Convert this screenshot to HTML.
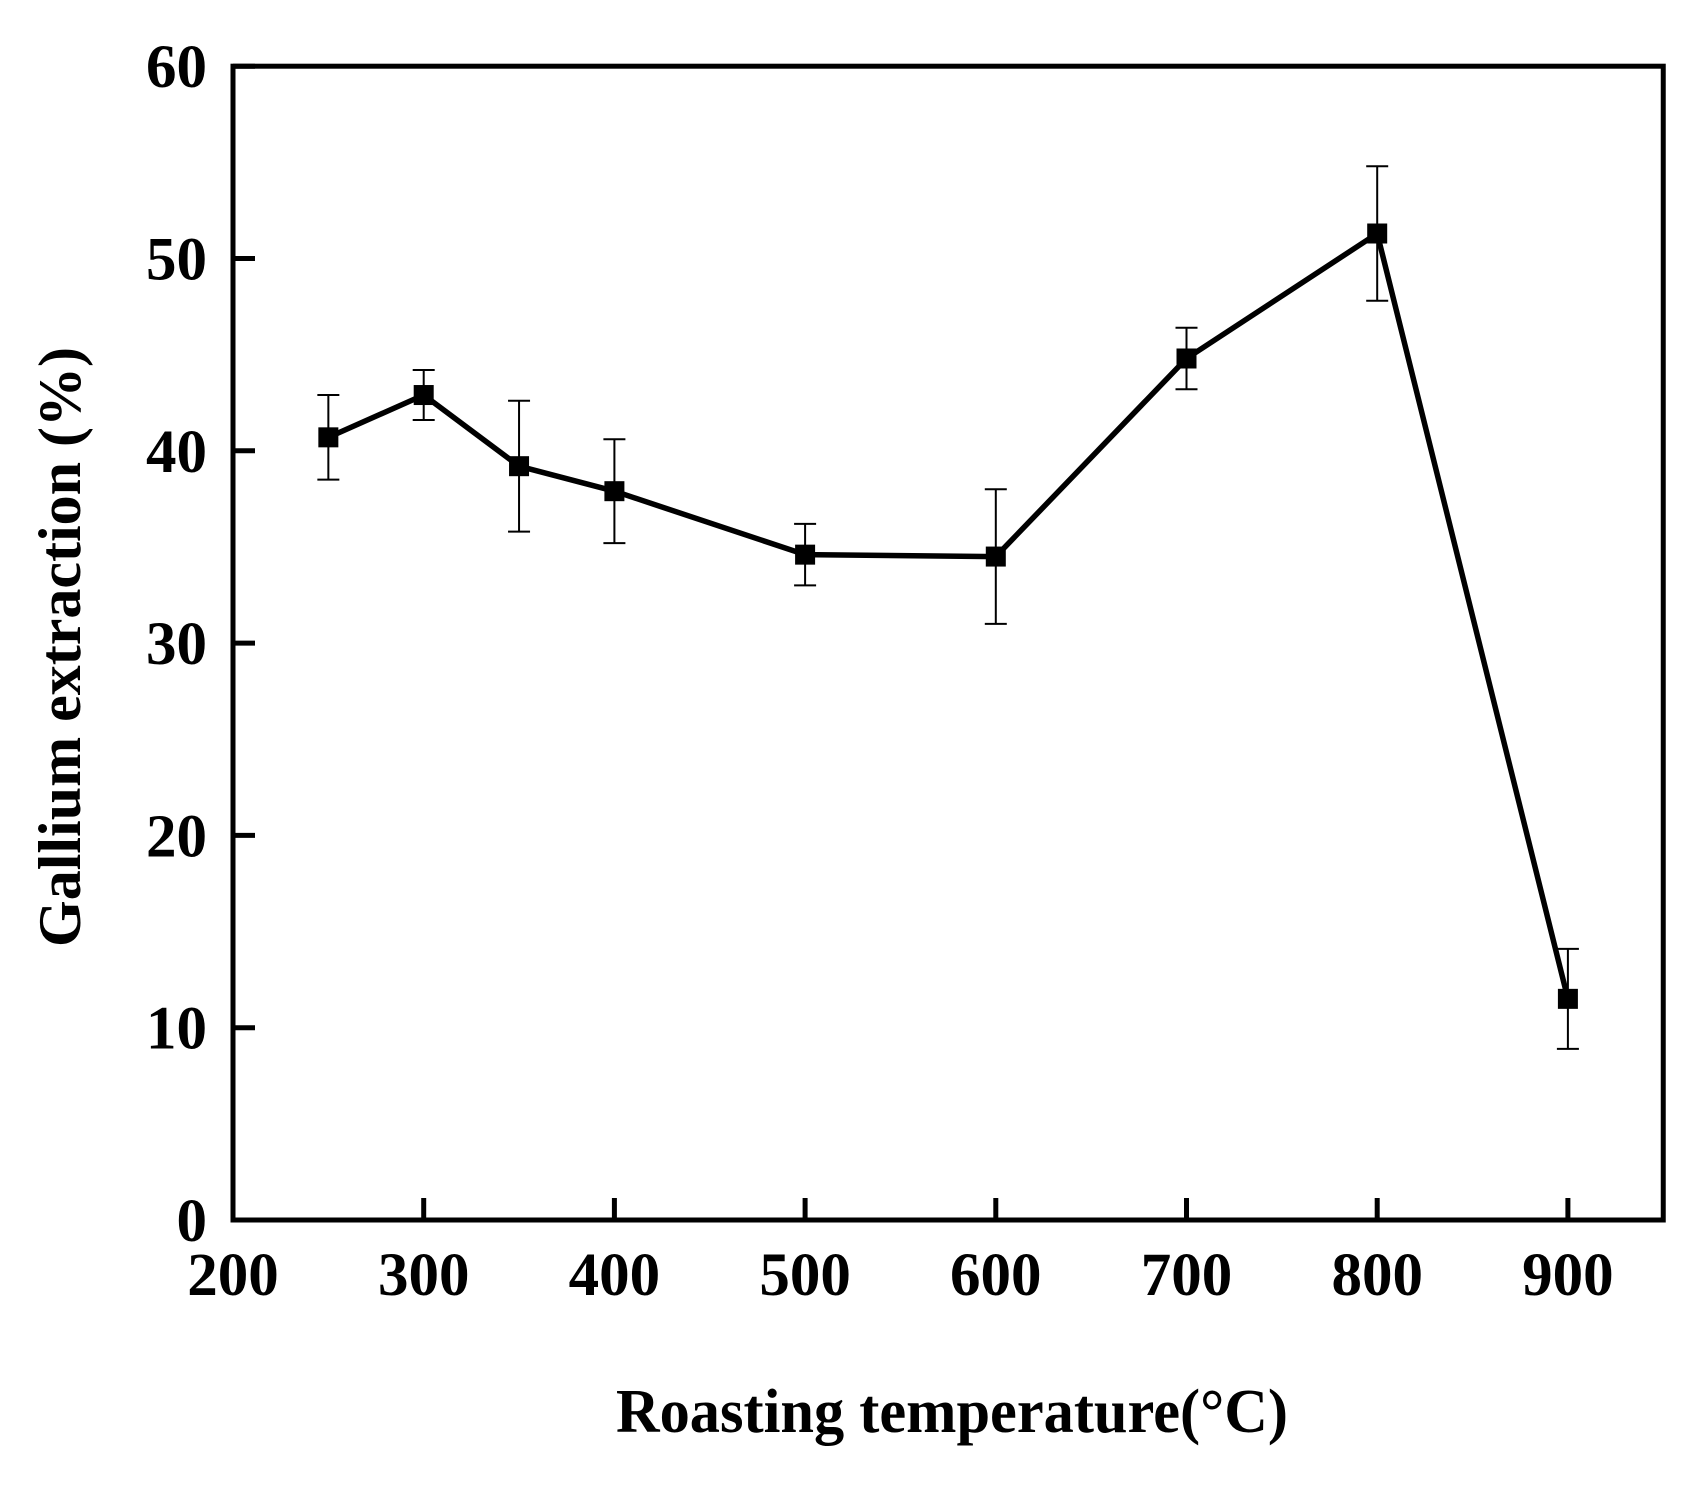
<!DOCTYPE html>
<html><head><meta charset="utf-8"><style>
html,body{margin:0;padding:0;background:#fff;}
svg text{font-family:"Liberation Serif",serif;font-weight:bold;fill:#000;}
</style></head><body>
<svg id="chart" width="1695" height="1485" viewBox="0 0 1695 1485" xmlns="http://www.w3.org/2000/svg">
<g id="plot"></g>
<text x="952" y="1432" font-size="62" text-anchor="middle" textLength="672" lengthAdjust="spacingAndGlyphs">Roasting temperature(°C)</text>
<text transform="translate(80,647) rotate(-90)" x="0" y="0" font-size="60" text-anchor="middle" textLength="600" lengthAdjust="spacingAndGlyphs">Gallium extraction (%)</text>
</svg>
<script>
const temps = [250, 300, 350, 400, 500, 600, 700, 800, 900];
const extraction = [40.7, 42.9, 39.2, 37.9, 34.6, 34.5, 44.8, 51.3, 11.5];
const errors = [2.2, 1.3, 3.4, 2.7, 1.6, 3.5, 1.6, 3.5, 2.6];
const xTicks = [200, 300, 400, 500, 600, 700, 800, 900];
const yTicks = [0, 10, 20, 30, 40, 50, 60];

const X0 = 233, XS = 1.907, Y0 = 1220, YS = 19.23;
const xs = v => X0 + (v - 200) * XS;
const ys = v => Y0 - v * YS;
const NS = 'http://www.w3.org/2000/svg';
const g = document.getElementById('plot');
function mk(tag, attrs){const e=document.createElementNS(NS,tag);for(const k in attrs)e.setAttribute(k,attrs[k]);g.appendChild(e);return e;}

const fr = mk('rect',{x:xs(200),y:ys(60),width:xs(950)-xs(200),height:ys(0)-ys(60),fill:'none',stroke:'#000','stroke-width':5});



xTicks.forEach(t=>{
  const l = mk('line',{x1:xs(t),x2:xs(t),y1:ys(0),y2:ys(0)-22,stroke:'#000','stroke-width':5});
  
  
  const tx = mk('text',{x:xs(t),y:ys(0)+75,'font-size':61,'text-anchor':'middle'});
  tx.textContent = t;
  
  
});
yTicks.forEach(t=>{
  const l = mk('line',{x1:xs(200),x2:xs(200)+22,y1:ys(t),y2:ys(t),stroke:'#000','stroke-width':5});
  
  
  const tx = mk('text',{x:207,y:ys(t)+21,'font-size':61,'text-anchor':'end'});
  tx.textContent = t;
  
  
});

const pl = mk('polyline',{points:temps.map((t,i)=>xs(t)+','+ys(extraction[i])).join(' '),fill:'none',stroke:'#000','stroke-width':5.5,'stroke-linejoin':'miter'});



temps.forEach((t,i)=>{
  const x = xs(t), yt = ys(extraction[i]+errors[i]), yb = ys(extraction[i]-errors[i]);
  const eb = mk('path',{d:`M${x},${yt}V${yb}M${x-11},${yt}H${x+11}M${x-11},${yb}H${x+11}`,stroke:'#000','stroke-width':2,fill:'none'});
  
  
  const m = mk('rect',{x:x-10,y:ys(extraction[i])-10,width:20,height:20,fill:'#000'});
  
  
});
</script>
</body></html>
